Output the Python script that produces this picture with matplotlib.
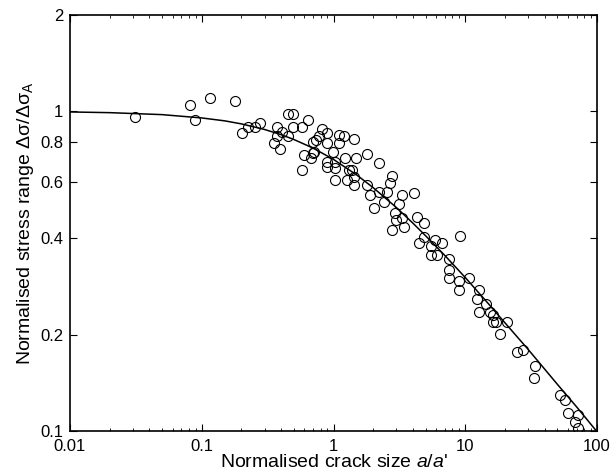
import numpy as np
import matplotlib.pyplot as plt
from matplotlib.ticker import FixedLocator, LogLocator, NullFormatter, NullLocator

plt.rcParams['font.family'] = ['Liberation Sans', 'DejaVu Sans']
plt.rcParams['mathtext.fontset'] = 'custom'
plt.rcParams['mathtext.rm'] = 'Liberation Sans'
plt.rcParams['mathtext.it'] = 'Liberation Sans:italic'

# measured points (a/a', stress range ratio)
crack_size = [0.031, 0.082, 0.089, 0.116, 0.18, 0.203, 0.223, 0.255, 0.279,
              0.372, 0.372, 0.355, 0.393, 0.406, 0.449, 0.449, 0.49, 0.49,
              0.578, 0.635, 0.578, 0.598, 0.67, 0.693, 0.71, 0.693, 0.741,
              0.782, 0.819, 0.893, 0.893, 0.893, 0.893, 0.986, 1.02, 1.02,
              1.02, 1.10, 1.10, 1.2, 1.22, 1.26, 1.32, 1.38, 1.44, 1.44, 1.44,
              1.49, 1.79, 1.79, 1.88, 2.04, 2.23, 2.23, 2.43, 2.55, 2.67, 2.76,
              2.76, 2.91, 3.0, 3.15, 3.33, 3.33, 3.44, 4.11, 4.28, 4.49, 4.86,
              4.86, 5.48, 5.48, 5.86, 6.06, 6.61, 7.55, 7.55, 7.55, 9.05, 8.93,
              8.93, 10.7, 12.8, 12.2, 12.8, 14.4, 15.4, 16.2, 16.2, 17.1, 18.2,
              20.8, 24.6, 27.2, 33.7, 33.2, 52.4, 57.4, 59.8, 71.6, 68.4, 71.6]
stress_range = [0.958, 1.048, 0.94, 1.10, 1.079, 0.858, 0.896, 0.896, 0.918,
                0.896, 0.838, 0.798, 0.764, 0.864, 0.838, 0.982, 0.982, 0.896,
                0.896, 0.94, 0.655, 0.73, 0.713, 0.742, 0.748, 0.804, 0.814,
                0.838, 0.879, 0.858, 0.798, 0.696, 0.671, 0.748, 0.696, 0.666,
                0.609, 0.842, 0.798, 0.838, 0.716, 0.609, 0.655, 0.655, 0.624,
                0.818, 0.588, 0.716, 0.735, 0.588, 0.547, 0.5, 0.687, 0.56,
                0.52, 0.56, 0.598, 0.627, 0.424, 0.479, 0.456, 0.512, 0.547,
                0.462, 0.435, 0.557, 0.468, 0.387, 0.446, 0.404, 0.378, 0.354,
                0.397, 0.354, 0.387, 0.346, 0.318, 0.301, 0.406, 0.295, 0.276,
                0.301, 0.276, 0.259, 0.235, 0.25, 0.235, 0.23, 0.219, 0.219,
                0.201, 0.22, 0.176, 0.179, 0.16, 0.147, 0.13, 0.125, 0.114,
                0.112, 0.107, 0.102]

# curve
curve_x = [0.01, 0.02, 0.05, 0.1, 0.15, 0.2, 0.3, 0.4, 0.5, 0.7, 1.0, 1.5, 2.0,
           3.0, 4.0, 5.0, 7.0, 10.0, 15.0, 20.0, 30.0, 50.0, 70.0, 100.0]
curve_y = [0.995, 0.990, 0.976, 0.953, 0.933, 0.913, 0.877, 0.845, 0.816, 0.767,
           0.707, 0.632, 0.577, 0.500, 0.447, 0.408, 0.354, 0.302, 0.250, 0.218,
           0.180, 0.140, 0.119, 0.0995]

ytick_vals = [0.1, 0.2, 0.4, 0.6, 0.8, 1, 2]
ytick_labels = ['0.1', '0.2', '0.4', '0.6', '0.8', '1', '2']
xtick_vals = [0.01, 0.1, 1, 10, 100]
xtick_labels = ['0.01', '0.1', '1', '10', '100']

fig = plt.figure(figsize=(6.12, 4.75), dpi=100)
ax = fig.add_axes([70/612, 1-431/475, 527/612, 416/475])

ax.plot(curve_x, curve_y, color='k', lw=1.1)
ax.plot(crack_size, stress_range, 'o', mfc='none', mec='k', ms=7.2, mew=0.8)

ax.set_xscale('log')
ax.set_yscale('log')
ax.set_xlim(0.01, 100)
ax.set_ylim(0.1, 2)

ax.xaxis.set_major_locator(FixedLocator(xtick_vals))
ax.set_xticklabels(xtick_labels)
ax.xaxis.set_minor_locator(LogLocator(base=10, subs=np.arange(2, 10)))
ax.xaxis.set_minor_formatter(NullFormatter())
ax.yaxis.set_major_locator(FixedLocator(ytick_vals))
ax.set_yticklabels(ytick_labels)
ax.yaxis.set_minor_locator(NullLocator())

ax.tick_params(which='both', direction='in', top=True, right=True, labelsize=12)
ax.tick_params(which='major', length=5, width=0.8)
ax.tick_params(axis='x', which='major', pad=5.5)
ax.tick_params(axis='y', which='major', pad=5)
ax.tick_params(which='minor', length=2.5, width=0.6)
for s in ax.spines.values():
    s.set_linewidth(1.2)

ax.set_xlabel("Normalised crack size $a/a$'", fontsize=14, labelpad=0)
ax.set_ylabel('Normalised stress range Δσ/Δσ$_\\mathrm{A}$', fontsize=14, labelpad=3)

fig.savefig('out.png', dpi=100)
